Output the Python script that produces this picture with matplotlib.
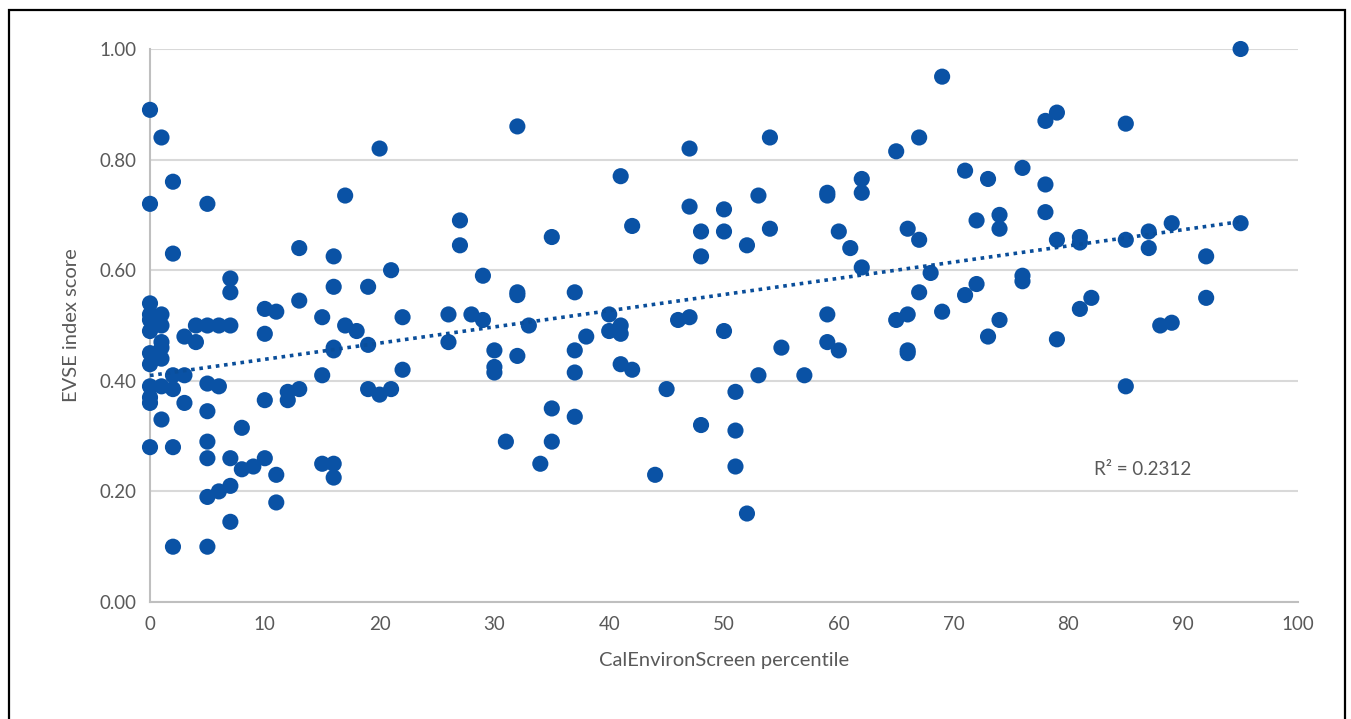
import numpy as np
import matplotlib
matplotlib.use("Agg")
import matplotlib.pyplot as plt
from matplotlib.patches import Rectangle

# percentile values (x) and EVSE index scores (y)
ces_percentile = (
    [0]*12 + [1]*8 + [2]*6 + [3]*3 + [4]*2 + [5]*8 + [6]*3 + [7]*6 + [8]*2 + [9] +
    [10]*4 + [11]*3 + [12]*2 + [13]*3 + [15]*3 + [16]*6 + [17]*2 + [18] + [19]*3 +
    [20]*2 + [21]*2 + [22]*2 + [26]*2 + [27]*2 + [28] + [29]*2 + [30]*3 + [31] +
    [32]*4 + [33] + [34] + [35]*3 + [37]*4 + [38] + [40]*2 + [41]*4 + [42]*2 + [44] +
    [45] + [46] + [47]*3 + [48]*3 + [50]*3 + [51]*3 + [52]*2 + [53]*2 + [54]*2 + [55] +
    [57] + [59]*4 + [60]*2 + [61] + [62]*3 + [65]*2 + [66]*4 + [67]*3 + [68] + [69]*2 +
    [71]*2 + [72]*2 + [73]*2 + [74]*3 + [76]*3 + [78]*3 + [79]*3 + [81]*3 + [82] +
    [85]*3 + [87]*2 + [88] + [89]*2 + [92]*2 + [95]*2
)
evse_score = [
    0.89, 0.72, 0.54, 0.52, 0.51, 0.49, 0.45, 0.43, 0.39, 0.37, 0.36, 0.28,   # 0
    0.84, 0.52, 0.50, 0.47, 0.46, 0.44, 0.39, 0.33,                           # 1
    0.76, 0.63, 0.41, 0.385, 0.28, 0.10,                                      # 2
    0.48, 0.41, 0.36,                                                         # 3
    0.50, 0.47,                                                               # 4
    0.72, 0.50, 0.395, 0.345, 0.29, 0.26, 0.19, 0.10,                         # 5
    0.50, 0.39, 0.20,                                                         # 6
    0.585, 0.56, 0.50, 0.26, 0.21, 0.145,                                     # 7
    0.315, 0.24,                                                              # 8
    0.245,                                                                    # 9
    0.53, 0.485, 0.365, 0.26,                                                 # 10
    0.525, 0.23, 0.18,                                                        # 11
    0.38, 0.365,                                                              # 12
    0.64, 0.545, 0.385,                                                       # 13
    0.515, 0.41, 0.25,                                                        # 15
    0.625, 0.57, 0.46, 0.455, 0.25, 0.225,                                    # 16
    0.735, 0.50,                                                              # 17
    0.49,                                                                     # 18
    0.57, 0.465, 0.385,                                                       # 19
    0.82, 0.375,                                                              # 20
    0.60, 0.385,                                                              # 21
    0.515, 0.42,                                                              # 22
    0.52, 0.47,                                                               # 26
    0.69, 0.645,                                                              # 27
    0.52,                                                                     # 28
    0.59, 0.51,                                                               # 29
    0.455, 0.425, 0.415,                                                      # 30
    0.29,                                                                     # 31
    0.86, 0.56, 0.555, 0.445,                                                 # 32
    0.50,                                                                     # 33
    0.25,                                                                     # 34
    0.66, 0.35, 0.29,                                                         # 35
    0.56, 0.455, 0.415, 0.335,                                                # 37
    0.48,                                                                     # 38
    0.52, 0.49,                                                               # 40
    0.77, 0.50, 0.485, 0.43,                                                  # 41
    0.68, 0.42,                                                               # 42
    0.23,                                                                     # 44
    0.385,                                                                    # 45
    0.51,                                                                     # 46
    0.82, 0.715, 0.515,                                                       # 47
    0.67, 0.625, 0.32,                                                        # 48
    0.71, 0.67, 0.49,                                                         # 50
    0.38, 0.31, 0.245,                                                        # 51
    0.645, 0.16,                                                              # 52
    0.735, 0.41,                                                              # 53
    0.84, 0.675,                                                              # 54
    0.46,                                                                     # 55
    0.41,                                                                     # 57
    0.74, 0.735, 0.52, 0.47,                                                  # 59
    0.67, 0.455,                                                              # 60
    0.64,                                                                     # 61
    0.765, 0.74, 0.605,                                                       # 62
    0.815, 0.51,                                                              # 65
    0.675, 0.52, 0.455, 0.45,                                                 # 66
    0.84, 0.655, 0.56,                                                        # 67
    0.595,                                                                    # 68
    0.95, 0.525,                                                              # 69
    0.78, 0.555,                                                              # 71
    0.69, 0.575,                                                              # 72
    0.765, 0.48,                                                              # 73
    0.70, 0.675, 0.51,                                                        # 74
    0.785, 0.59, 0.58,                                                        # 76
    0.87, 0.755, 0.705,                                                       # 78
    0.885, 0.655, 0.475,                                                      # 79
    0.66, 0.65, 0.53,                                                         # 81
    0.55,                                                                     # 82
    0.865, 0.655, 0.39,                                                       # 85
    0.67, 0.64,                                                               # 87
    0.50,                                                                     # 88
    0.685, 0.505,                                                             # 89
    0.625, 0.55,                                                              # 92
    1.00, 0.685,                                                              # 95
]

x_ticks = [0, 10, 20, 30, 40, 50, 60, 70, 80, 90, 100]
y_ticks = [0.0, 0.2, 0.4, 0.6, 0.8, 1.0]
x_label = "CalEnvironScreen percentile"
y_label = "EVSE index score"
r2_label = "R² = 0.2312"

plt.rcParams['font.family'] = ['Lato', 'DejaVu Sans']

fig = plt.figure(figsize=(13.51, 7.19), dpi=100)
ax = fig.add_axes([150/1351, 1 - 602/719, (1298-150)/1351, (602-49)/719])

x = np.array(ces_percentile, dtype=float)
y = np.array(evse_score, dtype=float)

ax.scatter(x, y, s=135, color="#0A52A5", edgecolors="none", zorder=3, clip_on=False)

slope, intercept = np.polyfit(x, y, 1)
xl = np.array([x.min(), x.max()])
ax.plot(xl, intercept + slope * xl, linestyle=(0, (1, 1.3)), color="#0A4E9A",
        linewidth=2.6, zorder=4, clip_on=False)

ax.set_xlim(0, 100)
ax.set_ylim(0, 1.0)
ax.set_xticks(x_ticks)
ax.set_yticks(y_ticks)
ax.set_yticklabels([f"{v:.2f}" for v in y_ticks])
ax.grid(axis="y", color="#D9D9D9", linewidth=1.5, zorder=0)
ax.set_axisbelow(True)
for s in ["top", "right"]:
    ax.spines[s].set_visible(False)
ax.spines["left"].set_color("#BFBFBF")
ax.spines["left"].set_linewidth(1.5)
ax.spines["bottom"].set_color("#BFBFBF")
ax.spines["bottom"].set_linewidth(1.5)
ax.tick_params(length=0, labelsize=13.5, colors="#595959", pad=10)
ax.set_xlabel(x_label, fontsize=14.5, color="#595959", labelpad=14)
ax.set_ylabel(y_label, fontsize=14.5, color="#595959", labelpad=14)

ax.text(86.5, 0.24, r2_label, fontsize=13.5, color="#595959", ha="center", va="center")

# outer frame (bottom edge runs off the image, as in the reference)
fig.patches.append(Rectangle((8.5/1351, -5/719), (1344.5-8.5)/1351, (719-10+5)/719,
                             transform=fig.transFigure, fill=False,
                             edgecolor="black", linewidth=1.6))

fig.savefig("out.png", dpi=100)
